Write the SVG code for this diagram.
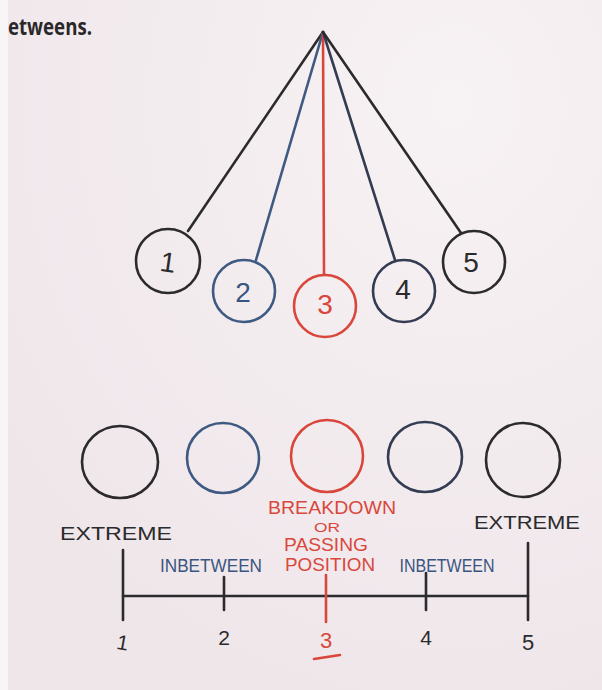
<svg xmlns="http://www.w3.org/2000/svg" width="602" height="690" viewBox="0 0 602 690">
  <defs>
    <radialGradient id="paper" cx="0.75" cy="0.15" r="0.9">
      <stop offset="0" stop-color="#f7f2f4"/>
      <stop offset="1" stop-color="#efe6ea"/>
    </radialGradient>
  </defs>
  <style>
    .blk{stroke:#2b2a2c;fill:none;stroke-width:2.6;stroke-linecap:round}
    .blu{stroke:#3f5a82;fill:none;stroke-width:2.6;stroke-linecap:round}
    .nav{stroke:#333c52;fill:none;stroke-width:2.6;stroke-linecap:round}
    .red{stroke:#d9473c;fill:none;stroke-width:2.6;stroke-linecap:round}
    .hand{font-family:"Liberation Sans","DejaVu Sans",sans-serif;text-anchor:middle}
    .num{font-size:28px}
    .lab{font-size:19px}
    .tk{fill:#2b2a2c}
    .tb{fill:#3a5580}
    .tr{fill:#d9473c}
  </style>
  <rect width="602" height="690" fill="url(#paper)"/>
  <rect width="8" height="690" fill="#f8f5f7"/>
  <text x="8" y="35" font-family="'Open Sans','Liberation Sans',sans-serif" font-weight="bold" font-size="23" fill="#2a2729" textLength="84" lengthAdjust="spacingAndGlyphs">etweens.</text>

  <g id="connectors">
    <line class="blk" x1="323" y1="32" x2="188" y2="231"/>
    <line class="blu" x1="323" y1="32" x2="256" y2="260"/>
    <line class="red" x1="323" y1="32" x2="324" y2="274"/>
    <line class="nav" x1="323" y1="32" x2="395" y2="260"/>
    <line class="blk" x1="323" y1="32" x2="461" y2="233"/>
  </g>

  <g id="ball1"><circle class="blk" cx="168" cy="261" r="32"/><text class="hand num tk" x="168" y="272" transform="rotate(8 168 262)">1</text></g>
  <g id="ball2"><circle class="blu" cx="244" cy="291" r="31"/><text class="hand num tb" x="243" y="302">2</text></g>
  <g id="ball3"><circle class="red" cx="325" cy="306" r="31"/><text class="hand num tr" x="325" y="314">3</text></g>
  <g id="ball4"><circle class="nav" cx="404" cy="291" r="31"/><text class="hand num tk" x="403" y="299">4</text></g>
  <g id="ball5"><circle class="blk" cx="474" cy="262" r="31"/><text class="hand num tk" x="471" y="272">5</text></g>

  <g id="circle1"><ellipse class="blk" cx="120" cy="462" rx="38" ry="36"/></g>
  <g id="circle2"><ellipse class="blu" cx="223" cy="458" rx="36" ry="35"/></g>
  <g id="circle3"><ellipse class="red" cx="327" cy="456" rx="36" ry="36"/></g>
  <g id="circle4"><ellipse class="nav" cx="425" cy="457" rx="37" ry="35"/></g>
  <g id="circle5"><ellipse class="blk" cx="523" cy="460" rx="37" ry="37"/></g>

  <g id="label-extreme-left"><text class="hand lab tk" x="116" y="540" textLength="112" lengthAdjust="spacingAndGlyphs">EXTREME</text></g>
  <g id="label-extreme-right"><text class="hand lab tk" x="527" y="529" textLength="106" lengthAdjust="spacingAndGlyphs">EXTREME</text></g>
  <g id="label-breakdown">
    <text class="hand tr" font-size="18" x="332" y="514" textLength="128" lengthAdjust="spacingAndGlyphs">BREAKDOWN</text>
    <text class="hand tr" font-size="13" x="327" y="532" textLength="26" lengthAdjust="spacingAndGlyphs">OR</text>
    <text class="hand tr" font-size="18" x="326" y="551" textLength="84" lengthAdjust="spacingAndGlyphs">PASSING</text>
    <text class="hand tr" font-size="18" x="330" y="571" textLength="90" lengthAdjust="spacingAndGlyphs">POSITION</text>
  </g>
  <g id="label-inbetween-left"><text class="hand tb" font-size="18" x="211" y="572" textLength="102" lengthAdjust="spacingAndGlyphs">INBETWEEN</text></g>
  <g id="label-inbetween-right"><text class="hand tb" font-size="18" x="447" y="572" textLength="95" lengthAdjust="spacingAndGlyphs">INBETWEEN</text></g>

  <g id="axis">
    <line class="blk" x1="123" y1="596" x2="528" y2="596" stroke-width="2"/>
    <line class="blk" x1="123" y1="550" x2="123" y2="620" stroke-width="3.2"/>
    <line class="blk" x1="224" y1="577" x2="224" y2="610" stroke-width="2"/>
    <line class="red" x1="326" y1="575" x2="326" y2="622" stroke-width="2"/>
    <line class="blk" x1="426" y1="573" x2="426" y2="610" stroke-width="2"/>
    <line class="blk" x1="528" y1="543" x2="528" y2="620" stroke-width="2.2"/>
  </g>
  <g id="ticks-labels">
    <text class="hand tk" font-size="21" x="123" y="650" transform="rotate(10 123 642)">1</text>
    <text class="hand tk" font-size="21" x="224" y="645">2</text>
    <text class="hand tr" font-size="22" x="326" y="648">3</text>
    <line class="red" x1="314" y1="659" x2="340" y2="655" stroke-width="2.4"/>
    <text class="hand tk" font-size="21" x="426" y="645">4</text>
    <text class="hand tk" font-size="22" x="528" y="650">5</text>
  </g>
</svg>
